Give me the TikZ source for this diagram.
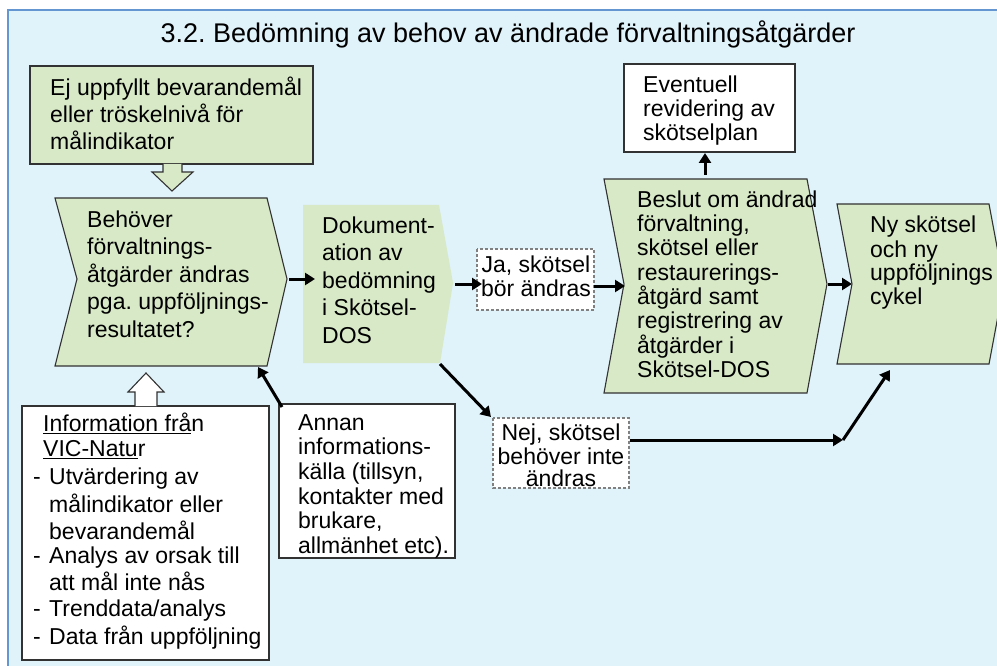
\documentclass[tikz,border=0pt]{standalone}
\usepackage{fontspec}
\setmainfont{Liberation Sans}
\usetikzlibrary{arrows.meta}
\definecolor{bgblue}{RGB}{224,242,250}
\definecolor{frameblue}{RGB}{100,150,210}
\definecolor{boxgreen}{RGB}{215,233,198}
\definecolor{edgegray}{RGB}{50,50,50}
\definecolor{dashgray}{RGB}{128,128,128}
\newcommand\fs[1]{\fontsize{23}{#1}\selectfont}
\tikzset{
  greenshape/.style={draw=edgegray, line width=1.1pt, fill=boxgreen, line join=miter},
  whitebox/.style={draw=edgegray, line width=1.1pt, fill=white},
  dashbox/.style={draw=dashgray, line width=1.4pt, dash pattern=on 3pt off 2pt, fill=white},
  blockarrow/.style={draw=edgegray, line width=1.1pt, line join=miter},
  conn/.style={line width=3pt, -{Triangle[length=10pt,width=12pt]}},
  txt/.style={anchor=north west, inner sep=0pt, align=left},
  ctxt/.style={anchor=north, inner sep=0pt, align=center},
}
\begin{document}
\frenchspacing
\begin{tikzpicture}[x=1pt,y=-1pt]
\clip (0,0) rectangle (997,666);
% background
\fill[bgblue] (8,10) rectangle (997,666);
\draw[frameblue, line width=1.5pt] (8,666) -- (8,10) -- (997,10);
% title
\node[anchor=base, inner sep=0pt, font=\fontsize{27}{32}\selectfont] (title) at (508,43)
  {3.2. Bedömning av behov av ändrade förvaltningsåtgärder};

% box A
\draw[greenshape] (30,66) rectangle (313,164);
\node[txt, font=\fs{27}] (atext) at (50,76.1)
  {\strut Ej uppfyllt bevarandemål\\eller tröskelnivå för\\målindikator};
\draw[blockarrow, fill=boxgreen] (163,164) -- (163,172) -- (152,172) -- (172,191) -- (193,172) -- (182,172) -- (182,164);

% box B
\draw[greenshape] (55,198) -- (267,198) -- (287,279) -- (267,366) -- (55,366) -- (77,279) -- cycle;
\node[txt, font=\fs{27.5}] (btext) at (87,207.75)
  {\strut Behöver\\förvaltnings-\\åtgärder ändras\\pga. uppföljnings-\\resultatet?};
\coordinate (Bout) at (289,279);
\coordinate (Bin) at (315,279);
\coordinate (Bbot) at (258,367);

% box C
\fill[boxgreen] (303,205) -- (439,205) -- (453,283) -- (440,363) -- (303,363) -- cycle;
\node[txt, font=\fs{27.5}] (ctext) at (322,213.75)
  {\strut Dokument-\\ation av\\bedömning\\i Skötsel-\\DOS};
\coordinate (Cout) at (455,284);
\coordinate (Cbot) at (440,364);

% Ja box
\draw[dashbox] (477,249) rectangle (594,310);
\node[ctxt, font=\fs{21}] (jatext) at (536,256) {\strut Ja, skötsel\\bör ändras};
\coordinate (Jain) at (482,284);
\coordinate (Jaout) at (594,286);

% Nej box
\draw[dashbox] (493,418) rectangle (629,488);
\node[ctxt, font=\fs{21.5}] (nejtext) at (561,424) {\strut Nej, skötsel\\behöver inte\\ändras};
\coordinate (Nejin) at (491,417);
\coordinate (Nejout) at (630,440);
\coordinate (corner) at (843,440);

% box D
\draw[greenshape] (604,179) -- (807,179) -- (827,284) -- (807,393) -- (604,393) -- (624,284) -- cycle;
\node[txt, font=\fs{24.3}] (dtext) at (637,190)
  {\strut Beslut om ändrad\\förvaltning,\\skötsel eller\\restaurerings-\\åtgärd samt\\registrering av\\åtgärder i\\Skötsel-DOS};
\coordinate (Din) at (625,286);
\coordinate (Dout) at (828,284);
\coordinate (Dtop) at (705,175);

% Eventuell box
\draw[whitebox] (624,64) rectangle (795,152);
\node[txt, font=\fs{24}] (evtext) at (643,75.2)
  {\strut Eventuell\\revidering av\\skötselplan};
\coordinate (Evbot) at (705,153);

% box E
\draw[greenshape] (837,204) -- (989,204) -- (1004,284) -- (989,364) -- (837,364) -- (852,284) -- cycle;
\node[txt, font=\fs{23.7}] (etext) at (870,215.4)
  {\strut Ny skötsel\\och ny\\uppföljnings\\cykel};
\coordinate (Ein) at (852,284);
\coordinate (Ebot) at (890,370);

% Info box
\draw[whitebox] (22,406) rectangle (269,660);
\draw[blockarrow, fill=white] (135,406) -- (135,392) -- (128,392) -- (146,373) -- (164,392) -- (157,392) -- (157,406);
\node[txt, font=\fs{24}] (infotext) at (33,413.2)
  {\strut\hspace*{10pt}\underline{Information frå}n\\[1pt]
   \hspace*{10pt}\underline{VIC-Natu}r\\[4pt]
   \makebox[16pt][l]{-}Utvärdering av\\[4pt]
   \hspace*{16pt}målindikator eller\\[3pt]
   \hspace*{16pt}bevarandemål\\
   \makebox[16pt][l]{-}Analys av orsak till\\[3pt]
   \hspace*{16pt}att mål inte nås\\[2pt]
   \makebox[16pt][l]{-}Trenddata/analys\\[4pt]
   \makebox[16pt][l]{-}Data från uppföljning};

% Annan box
\draw[whitebox] (279,404) rectangle (455,558);
\node[txt, font=\fs{24.6}] (annantext) at (298,412.8)
  {\strut Annan\\informations-\\källa (tillsyn,\\kontakter med\\brukare,\\allmänhet etc).};
\coordinate (Annanout) at (282,407);

% connectors
\draw[conn] (Bout) -- (Bin);
\draw[conn] (Cout) -- (Jain);
\draw[conn] (Jaout) -- (Din);
\draw[conn] (Dout) -- (Ein);
\draw[conn] (Dtop) -- (Evbot);
\draw[conn] (Cbot) -- (Nejin);
\draw[conn] (Nejout) -- (corner);
\draw[conn] (corner) -- (Ebot);
\draw[conn] (Annanout) -- (Bbot);
\end{tikzpicture}
\end{document}
